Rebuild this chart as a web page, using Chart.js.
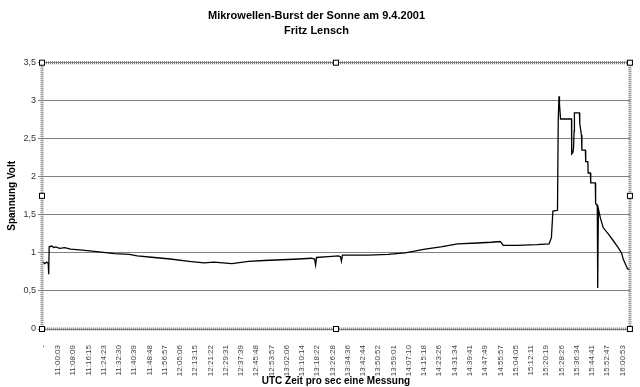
<!DOCTYPE html>
<html>
<head>
<meta charset="utf-8">
<script src="https://cdn.jsdelivr.net/npm/chart.js@4/dist/chart.umd.min.js"></script>
<style>
html,body{margin:0;padding:0;background:#fff;}
#wrap{width:640px;height:387px;position:relative;}
</style>
</head>
<body>
<div id="wrap"><canvas id="c"></canvas></div>
<script>
// ---- DATA ----
const titleLines = ['Mikrowellen-Burst der Sonne am 9.4.2001', 'Fritz Lensch'];
const xAxisTitle = 'UTC Zeit pro sec eine Messung';
const yAxisTitle = 'Spannung Volt';

// category tick labels (one every ~487 measurements)
const tickLabels = ['-', '11:00:03', '11:08:09', '11:16:15', '11:24:23', '11:32:30', '11:40:39',
  '11:48:48', '11:56:57', '12:05:06', '12:13:15', '12:21:22', '12:29:31', '12:37:39',
  '12:45:48', '12:53:57', '13:02:06', '13:10:14', '13:18:22', '13:26:28', '13:34:36',
  '13:42:44', '13:50:52', '13:59:01', '14:07:10', '14:15:18', '14:23:26', '14:31:34',
  '14:39:41', '14:47:49', '14:55:57', '15:04:05', '15:12:11', '15:20:19', '15:28:26',
  '15:36:34', '15:44:41', '15:52:47', '16:00:53'];

const yTickValues = [0, 0.5, 1, 1.5, 2, 2.5, 3, 3.5];
const yTickLabels = ['0', '0,5', '1', '1,5', '2', '2,5', '3', '3,5'];

const samplePos = [0, 0.13, 0.26, 0.36, 0.39, 0.42, 0.59, 0.72, 0.85, 1.11, 1.44, 1.83, 2.42,
  3.39, 4.70, 5.68, 6.20, 7.31, 8.36, 9.60, 10.57, 11.23, 12.4, 13.5, 14.5, 15.67, 16.78,
  17.62, 17.82, 17.89, 17.95, 18.73, 19.39, 19.52, 19.58, 19.65, 20.37, 21.34, 22.65,
  23.76, 25.07, 26.1, 27.2, 28.5, 29.4, 30.0, 30.2, 31.1, 32.4, 33.2, 33.35, 33.45, 33.75,
  33.8, 33.85, 33.88, 33.95, 34.67, 34.68, 34.76, 34.8, 34.84, 34.86, 35.19, 35.21, 35.32,
  35.35, 35.58, 35.6, 35.74, 35.76, 35.91, 35.93, 36.23, 36.25, 36.36, 36.37, 36.39, 36.4,
  36.43, 36.56, 36.75, 37.08, 37.41, 37.73, 37.95, 38.06, 38.21, 38.34, 38.5];
const voltage = [0.88, 0.86, 0.88, 0.86, 0.72, 1.08, 1.09, 1.07, 1.08, 1.06, 1.07, 1.05, 1.04,
  1.02, 0.99, 0.98, 0.96, 0.94, 0.92, 0.89, 0.87, 0.88, 0.86, 0.89, 0.90, 0.91, 0.92,
  0.93, 0.92, 0.84, 0.94, 0.95, 0.96, 0.95, 0.89, 0.97, 0.97, 0.97, 0.98,
  1.00, 1.05, 1.08, 1.12, 1.13, 1.14, 1.15, 1.10, 1.10, 1.11, 1.12, 1.20, 1.55, 1.56,
  2.76, 3.06, 2.96, 2.76, 2.76, 2.30, 2.32, 2.38, 2.60, 2.84, 2.84, 2.70, 2.55,
  2.35, 2.35, 2.20, 2.20, 2.05, 2.05, 1.92, 1.92, 1.65, 1.62, 0.54, 1.60, 0.55,
  1.58, 1.46, 1.33, 1.25, 1.16, 1.07, 1.00, 0.92, 0.85, 0.79, 0.78];

const points = samplePos.map((x, i) => ({ x: x, y: voltage[i] }));

const FONT = "Arial, 'Liberation Sans', sans-serif";

const plotFrame = {
  id: 'plotFrame',
  afterDraw(chart) {
    const { left, top, right, bottom } = chart.chartArea;
    const ctx = chart.ctx;
    ctx.save();
    ctx.strokeStyle = '#777';
    ctx.lineWidth = 3;
    ctx.setLineDash([1, 1]);
    ctx.strokeRect(left, top, right - left, bottom - top);
    ctx.setLineDash([]);
    const mx = (left + right) / 2, my = (top + bottom) / 2;
    const handles = [[left, top], [mx, top], [right, top], [left, my], [right, my],
      [left, bottom], [mx, bottom], [right, bottom]];
    ctx.lineWidth = 1;
    ctx.strokeStyle = '#000';
    ctx.fillStyle = '#fff';
    handles.forEach(([hx, hy]) => {
      ctx.fillRect(hx - 2.5, hy - 2.5, 5, 5);
      ctx.strokeRect(hx - 2.5, hy - 2.5, 5, 5);
    });
    ctx.restore();
  }
};

new Chart(document.getElementById('c'), {
  type: 'line',
  data: {
    datasets: [{
      data: points,
      borderColor: '#000',
      borderWidth: 1.3,
      pointRadius: 0,
      tension: 0,
      fill: false
    }]
  },
  options: {
    responsive: true,
    maintainAspectRatio: false,
    animation: false,
    layout: { padding: { left: 0, right: 7, top: 0, bottom: 0 } },
    plugins: {
      legend: { display: false },
      tooltip: { enabled: false },
      title: {
        display: true,
        text: titleLines,
        color: '#000',
        font: { family: FONT, size: 11, weight: 'bold', lineHeight: 1.35 },
        padding: { top: 9, bottom: 24 }
      }
    },
    scales: {
      x: {
        type: 'linear',
        min: -0.05,
        max: 38.5,
        grid: { display: false },
        border: { display: false },
        afterBuildTicks: (s) => { s.ticks = tickLabels.map((l, i) => ({ value: i })); },
        afterFit: (s) => { s.height = 58; },
        ticks: {
          autoSkip: false,
          maxRotation: 90,
          minRotation: 90,
          padding: 8,
          color: '#444',
          font: { family: FONT, size: 8 },
          callback: (v, i) => tickLabels[i]
        },
        title: {
          display: true,
          text: xAxisTitle,
          color: '#000',
          font: { family: FONT, size: 10, weight: 'bold' },
          padding: { top: 0, bottom: 0 }
        }
      },
      y: {
        min: 0,
        max: 3.5,
        afterBuildTicks: (s) => { s.ticks = yTickValues.map(v => ({ value: v })); },
        afterFit: (s) => { s.width = 42; },
        grid: { color: '#808080', lineWidth: 1, tickLength: 4 },
        border: { display: false },
        ticks: {
          padding: 2,
          color: '#333',
          font: { family: FONT, size: 9 },
          callback: (v, i) => yTickLabels[i]
        },
        title: {
          display: true,
          text: yAxisTitle,
          color: '#000',
          font: { family: FONT, size: 10, weight: 'bold' },
          padding: { top: 6, bottom: 0 }
        }
      }
    }
  },
  plugins: [plotFrame]
});
</script>
</body>
</html>
